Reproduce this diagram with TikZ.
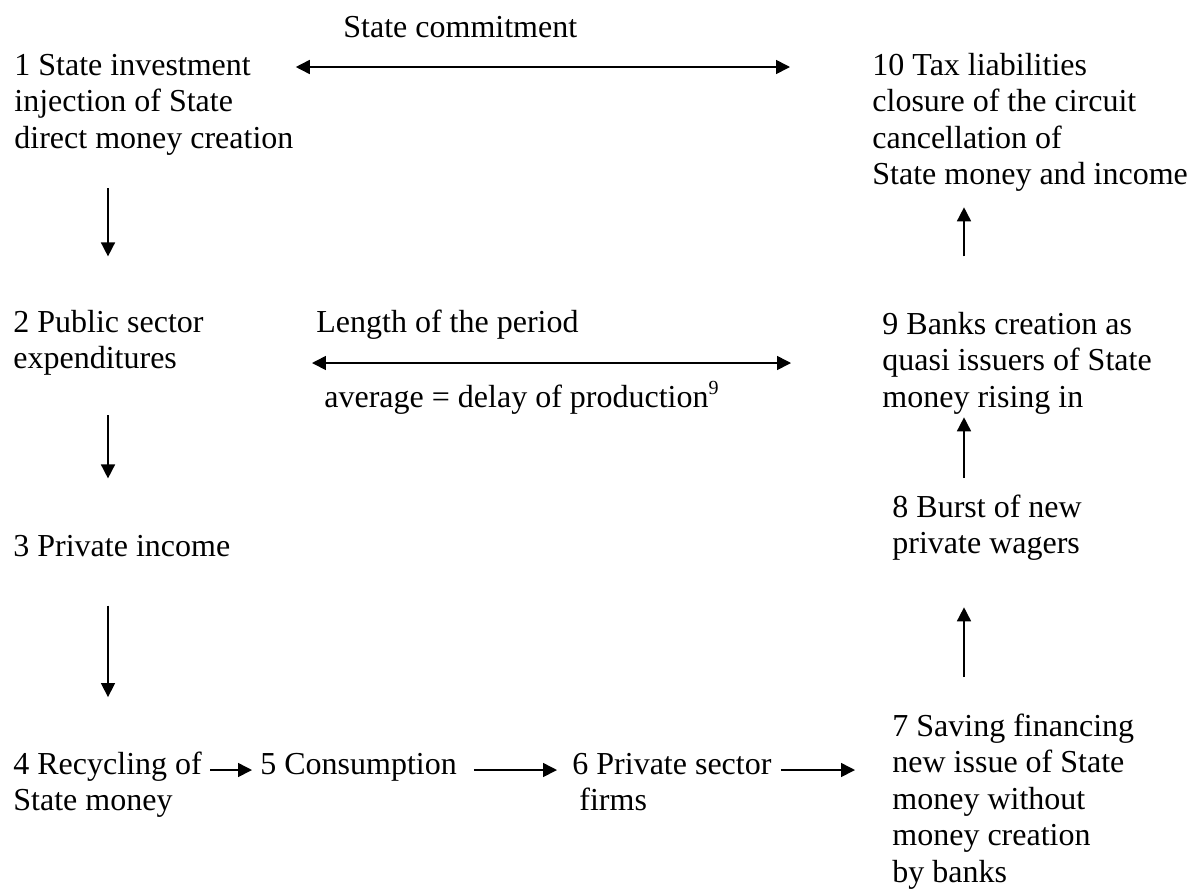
\documentclass[tikz,border=0pt]{standalone}
\usepackage{fontspec}
\setmainfont{Liberation Serif}
\usetikzlibrary{arrows.meta}

\begin{document}
\begin{tikzpicture}[x=0.5pt, y=-0.5pt, >={Triangle[length=7pt,width=7pt]},
	stage/.style={anchor=base west, inner sep=0pt, align=left, font=\fontsize{16}{18.25}\selectfont},
	flow/.style={black, line width=0.8pt, ->}]
	\useasboundingbox (0,0) rectangle (1192,889);

	\coordinate (rowTop) at (0,67);
	\coordinate (rowMid) at (0,363);
	\coordinate (rowLow) at (0,770);
	\coordinate (colL) at (108,0);
	\coordinate (colR) at (964,0);

	% multi-line stages sit on the baseline of their last line
	\node[stage] (commit) at (343,37) {State commitment};
	\node[stage] (n1) at (14,148) {1 State investment\\injection of State\\direct money creation};
	\node[stage] (n10) at (872,184.5) {10 Tax liabilities\\closure of the circuit\\cancellation of\\State money and income};

	\node[stage] (n2) at (13,368.5) {2 Public sector\\expenditures};
	\node[stage] (period) at (316,332) {Length of the period};
	\node[stage] (avg) at (324,407) {average = delay of production\raisebox{0.85ex}{\fontsize{10}{10}\selectfont 9}};
	\node[stage] (n9) at (882,407) {9 Banks creation as\\quasi issuers of State\\money rising in};

	\node[stage] (n3) at (13,556) {3 Private income};
	\node[stage] (n8) at (892,553.5) {8 Burst of new\\private wagers};

	\node[stage] (n4) at (13,810.5) {4 Recycling of\\State money};
	\node[stage] (n5) at (260,774) {5 Consumption};
	\node[stage] (n6) at (572,810.5) {6 Private sector\\\hspace*{3.5pt}firms};
	\node[stage] (n7) at (892,882) {7 Saving financing\\new issue of State\\money without\\money creation\\by banks};

	\draw[flow, <->, shorten <=1pt, shorten >=41pt] (n1.east |- rowTop) -- (n10.west |- rowTop);
	\draw[flow, <->, shorten <=54pt, shorten >=45.5pt] (n2.east |- rowMid) -- (n9.west |- rowMid);

	\draw[flow, shorten <=16.5pt, shorten >=26.5pt] (n1.south -| colL) -- (n2.north -| colL);
	\draw[flow, shorten <=19.75pt, shorten >=28pt] (n2.south -| colL) -- (n3.north -| colL);
	\draw[flow, shorten <=24.5pt, shorten >=27pt] (n3.south -| colL) -- (n4.north -| colL);

	\draw[flow, shorten <=4pt, shorten >=4pt] (n4.east |- rowLow) -- (n5.west |- rowLow);
	\draw[flow, shorten <=8.25pt, shorten >=7.5pt] (n5.east |- rowLow) -- (n6.west |- rowLow);
	\draw[flow, shorten <=4.5pt, shorten >=18.5pt] (n6.east |- rowLow) -- (n7.west |- rowLow);

	\draw[flow, shorten <=18pt, shorten >=23.25pt] (n7.north -| colR) -- (n8.south -| colR);
	\draw[flow, shorten <=8pt, shorten >=1.5pt] (n8.north -| colR) -- (n9.south -| colR);
	\draw[flow, shorten <=27.5pt, shorten >=7.75pt] (n9.north -| colR) -- (n10.south -| colR);
\end{tikzpicture}
\end{document}
